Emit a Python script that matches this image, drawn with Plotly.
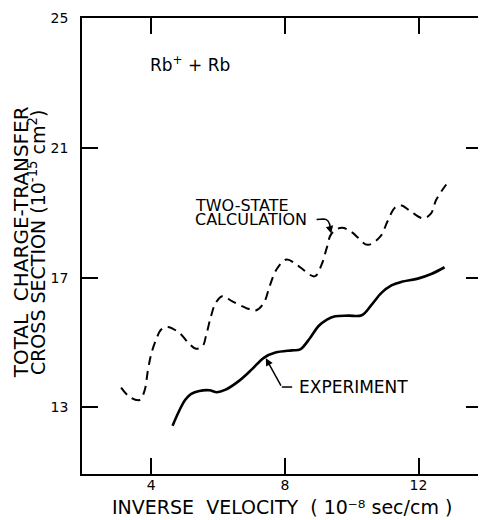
import plotly.graph_objects as go

# Two-state calculation (dashed)
calc_x = [3.10, 3.35, 3.65, 3.80, 3.90, 4.00, 4.15, 4.30, 4.49, 4.84, 5.14, 5.34, 5.54, 5.64,
          5.79, 5.93, 6.13, 6.43, 6.83, 7.13, 7.37, 7.55, 7.75, 8.05, 8.42, 8.89, 9.10,
          9.25, 9.40, 9.70, 10.02, 10.48, 10.86, 11.07, 11.30, 11.49, 11.78, 12.14, 12.37,
          12.53, 12.83]
calc_y = [13.61, 13.33, 13.23, 13.51, 14.13, 14.64, 15.10, 15.40, 15.48, 15.30, 14.96, 14.81,
          14.89, 15.20, 15.81, 16.22, 16.43, 16.27, 16.07, 15.99, 16.22, 16.75, 17.25, 17.56,
          17.35, 17.04, 17.40, 17.90, 18.36, 18.54, 18.39, 18.01, 18.27, 18.73, 19.16, 19.22,
          19.03, 18.83, 18.97, 19.40, 19.87]

# Experiment (solid)
exp_x = [4.64, 4.84, 5.02, 5.20, 5.44, 5.74, 5.97, 6.21, 6.63, 7.02, 7.37, 7.72, 8.21, 8.46, 8.76,
         9.01, 9.26, 9.51, 9.90, 10.30, 10.60, 10.89, 11.19, 11.49, 11.98, 12.38, 12.78]
exp_y = [12.44, 12.90, 13.24, 13.42, 13.51, 13.53, 13.47, 13.54, 13.82, 14.18, 14.53, 14.69, 14.76,
         14.79, 15.15, 15.51, 15.71, 15.81, 15.83, 15.84, 16.17, 16.53, 16.76, 16.87, 16.97,
         17.11, 17.32]

x_ticks = [4, 8, 12]
x_tick_labels = ["4", "8", "12"]
y_ticks = [13, 17, 21, 25]
y_tick_labels = ["13", "17", "21", "25"]

FONT = "DejaVu Sans"
NB = "\u00a0"

fig = go.Figure()
fig.add_trace(go.Scatter(x=calc_x, y=calc_y, mode="lines",
                         line=dict(color="black", width=2, dash="9px,6px", shape="spline", smoothing=1.0),
                         hoverinfo="skip", showlegend=False))
fig.add_trace(go.Scatter(x=exp_x, y=exp_y, mode="lines",
                         line=dict(color="black", width=2.6, shape="spline", smoothing=1.0),
                         hoverinfo="skip", showlegend=False))

axis_common = dict(showgrid=False, zeroline=False, showline=True, linecolor="black", linewidth=1.5,
                   mirror="allticks", ticks="inside", ticklen=16, tickwidth=1.5, tickcolor="black",
                   ticklabeloverflow="allow")
fig.update_xaxes(range=[1.93, 13.9], tickvals=x_ticks, ticktext=x_tick_labels,
                 tickfont=dict(family=FONT, size=14, color="black"),
                 ticklabelstandoff=-3, **axis_common)
fig.update_yaxes(range=[10.95, 25], tickvals=y_ticks, ticktext=y_tick_labels,
                 tickfont=dict(family=FONT, size=14, color="black"),
                 ticklabelstandoff=9, **axis_common)

ann = []
ann.append(dict(x=3.89, y=23.57, text="Rb<sup>+</sup> + Rb", showarrow=False, xanchor="left",
                yanchor="middle", font=dict(family=FONT, size=17, color="black")))
ann.append(dict(x=5.25, y=19.22, text="TWO-STATE", showarrow=False, xanchor="left", yanchor="middle",
                font=dict(family=FONT, size=16, color="black")))
ann.append(dict(x=5.25, y=18.79, text="CALCULATION", showarrow=False, xanchor="left", yanchor="middle",
                font=dict(family=FONT, size=16, color="black")))
# arrow head of the hooked leader
ann.append(dict(x=9.39, y=18.36, ax=-2, ay=-8, text="", showarrow=True, arrowhead=2, arrowsize=1,
                arrowwidth=1.5, arrowcolor="black"))
ann.append(dict(x=8.36, y=13.63, text="EXPERIMENT", showarrow=False, xanchor="left", yanchor="middle",
                font=dict(family=FONT, size=17, color="black")))
ann.append(dict(x=7.43, y=14.52, ax=16, ay=29, text="", showarrow=True, arrowhead=2, arrowsize=1,
                arrowwidth=1.5, arrowcolor="black"))
# axis titles
ann.append(dict(xref="paper", yref="paper", x=0.5, y=-0.0731, borderpad=0,
                text=f"INVERSE{NB}{NB}VELOCITY{NB}{NB}({NB}10⁻⁸{NB}sec/cm{NB})", showarrow=False,
                xanchor="center", yanchor="middle", font=dict(family=FONT, size=19, color="black")))
ann.append(dict(xref="paper", yref="paper", x=-0.154, y=0.509, textangle=-90,
                text=f"TOTAL{NB}{NB}CHARGE-TRANSFER", showarrow=False, xanchor="center", yanchor="middle",
                font=dict(family=FONT, size=20, color="black")))
ann.append(dict(xref="paper", yref="paper", x=-0.112, y=0.509, textangle=-90,
                text=f"CROSS{NB}SECTION{NB}(10<sup>-15</sup>{NB}cm<sup>2</sup>)", showarrow=False,
                xanchor="center", yanchor="middle", font=dict(family=FONT, size=19, color="black")))

shapes = [
    # hooked leader from "CALCULATION"
    dict(type="path", path="M 8.95,18.79 L 9.17,18.81 Q 9.33,18.80 9.36,18.55",
         line=dict(color="black", width=1.5)),
    # leader from "EXPERIMENT"
    dict(type="line", x0=7.91, y0=13.63, x1=8.22, y1=13.63, line=dict(color="black", width=1.5)),
]

# page body adds an ~8px offset; compensate so the plot frame lands where the reference has it
fig.update_layout(width=478, height=512, margin=dict(l=74, r=2, t=8, b=46, pad=0),
                  plot_bgcolor="white", paper_bgcolor="white", annotations=ann, shapes=shapes,
                  font=dict(family=FONT, color="black"))
fig.write_html("out.html")
